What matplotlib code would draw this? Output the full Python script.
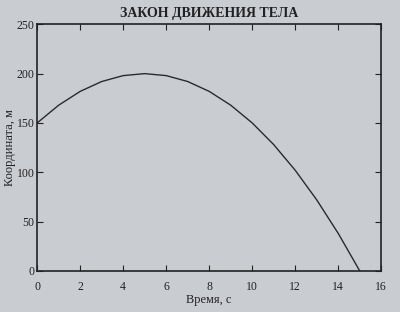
import matplotlib
matplotlib.use("Agg")
import matplotlib.pyplot as plt

t = [0, 1, 2, 3, 4, 5, 6, 7, 8, 9, 10, 11, 12, 13, 14, 15]
x = [150, 168, 182, 192, 198, 200, 198, 192, 182, 168, 150, 128, 102, 72, 38, 0]
xticks = [0, 2, 4, 6, 8, 10, 12, 14, 16]
yticks = [0, 50, 100, 150, 200, 250]

plt.rcParams['font.family'] = ['Liberation Serif', 'DejaVu Serif']
bg = '#c9cdd1'
fig = plt.figure(figsize=(4, 3.12), dpi=100, facecolor=bg)
ax = fig.add_axes([0.093, 0.132, 0.86, 0.79], facecolor=bg)
ax.plot(t, x, color='#2a2a2a', lw=1.0)
ax.set_xlim(0, 16)
ax.set_ylim(0, 250)
ax.set_xticks(xticks)
ax.set_yticks(yticks)
ax.tick_params(direction='in', top=True, right=True, length=4, labelsize=8.5, colors='#222222')
ax.tick_params(axis='x', pad=7)
ax.tick_params(axis='y', pad=2)
for s in ax.spines.values():
    s.set_color('#222222')
    s.set_linewidth(1.2)
ax.set_title('ЗАКОН ДВИЖЕНИЯ ТЕЛА', fontsize=10, fontweight='bold', color='#222222', pad=5)
ax.set_xlabel('Время, с', fontsize=9, color='#222222', labelpad=1)
ax.set_ylabel('Координата, м', fontsize=9, color='#222222')
ax.yaxis.set_label_coords(-0.062, 0.5)
fig.savefig('out.png', dpi=100, facecolor=bg)
